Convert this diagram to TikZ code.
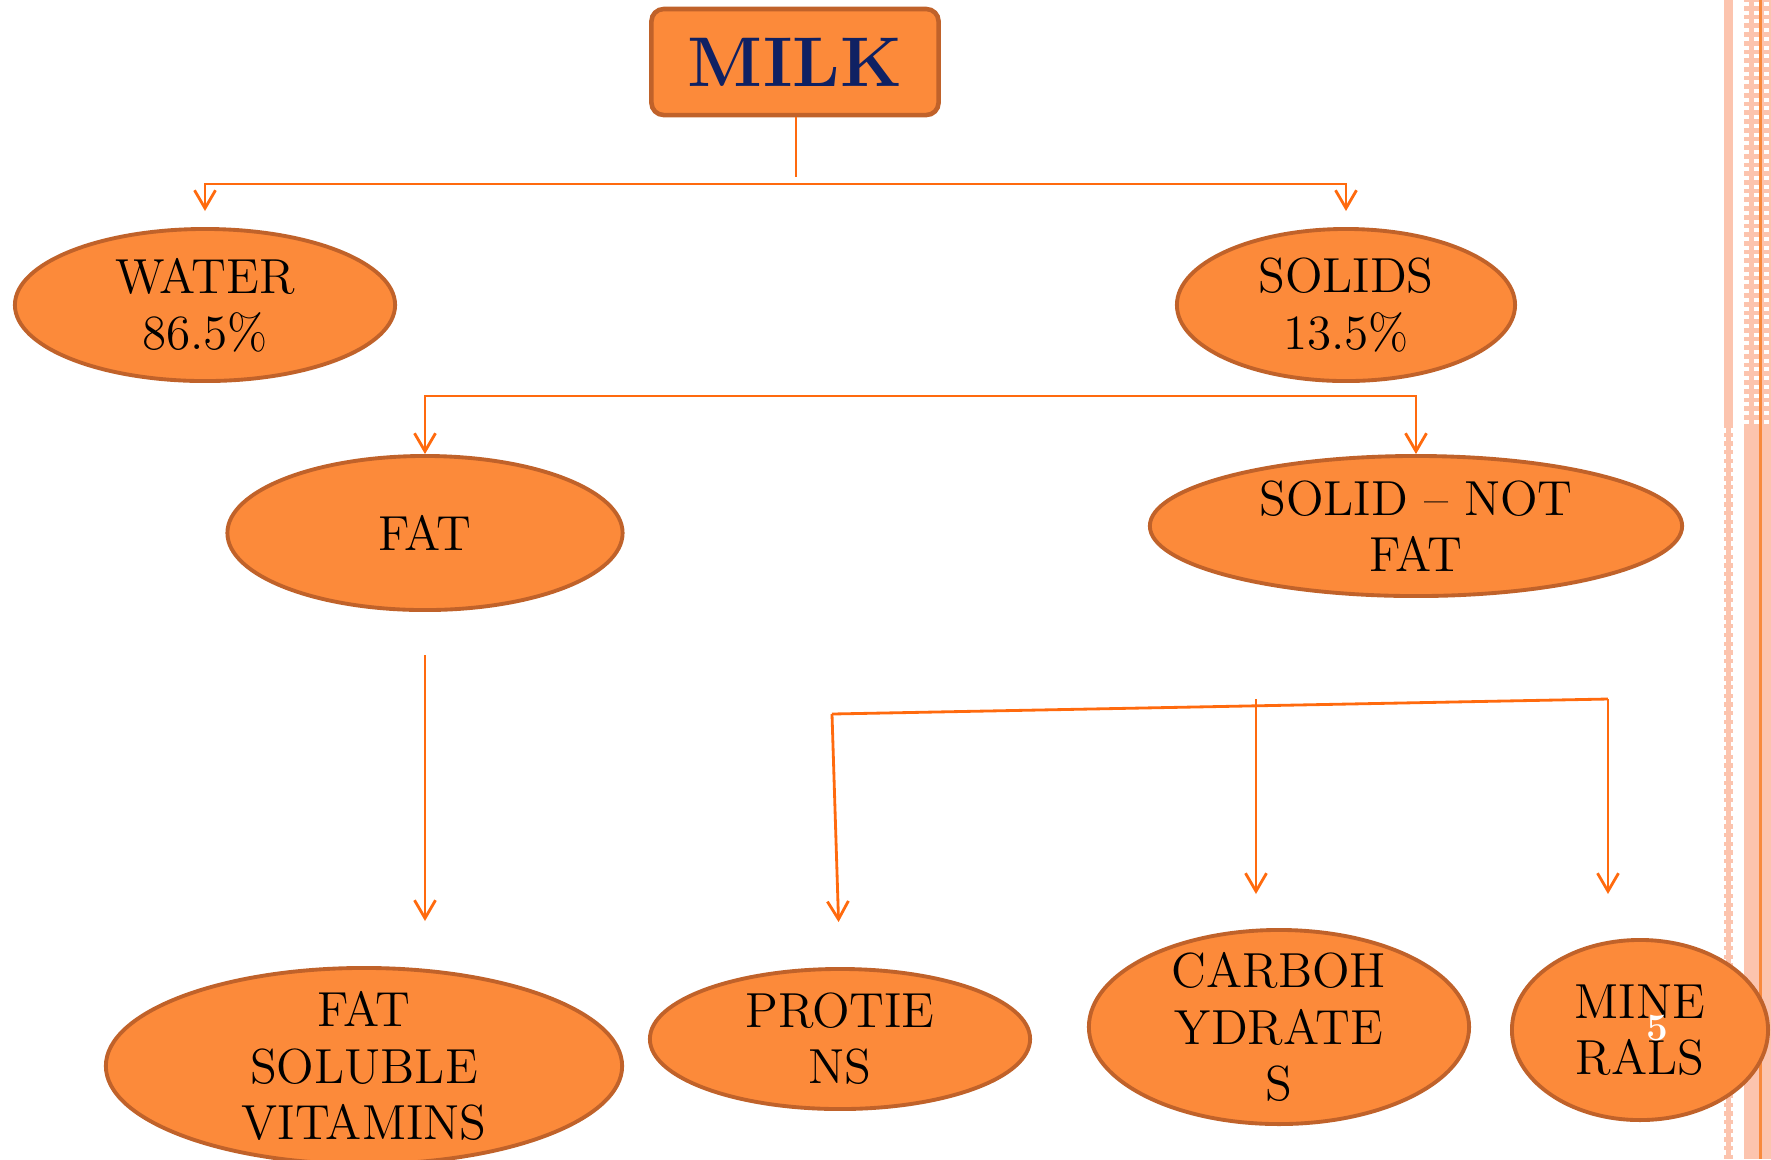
\documentclass[tikz,border=0pt]{standalone}
\usepackage{tikz}
\usetikzlibrary{arrows.meta,shapes.geometric,calc}
\definecolor{milkfill}{HTML}{FC8A3A}
\definecolor{milkrim}{HTML}{C0622A}
\definecolor{milkline}{HTML}{FF6A0E}
\definecolor{milknavy}{HTML}{0F2163}
\definecolor{sidepink}{HTML}{FCC4AE}
\definecolor{sideorange}{HTML}{F88A3C}
\tikzset{
  partell/.style={ellipse, draw=milkrim, fill=milkfill, line width=1.1pt,
    inner sep=0pt, align=center, font=\fontsize{14}{16}\selectfont},
  topbox/.style={rectangle, draw=milkrim, fill=milkfill, line width=1.3pt,
    rounded corners=3.5pt, minimum width=2.87cm, minimum height=1.06cm,
    text=milknavy, font=\fontsize{20}{24}\selectfont\bfseries},
  plainln/.style={line width=0.8pt, draw=milkline},
  arr/.style={plainln, -{Straight Barb[length=1.8mm, width=2.1mm]}}
}

\begin{document}
\begin{tikzpicture}[x=0.01cm, y=-0.01cm]
  \useasboundingbox (0,0) rectangle (1771,1159);
  % side border
  \fill[sidepink] (1724,0) rectangle (1733,424);
  \fill[sidepink] (1726,424) rectangle (1731,1159);
  \foreach \r in {0,...,84}
    \fill[sidepink] (1724,424+\r*8.7) rectangle ++(9,4.3);
  \fill[sidepink] (1744,0) rectangle (1771,1159);
  \foreach \r in {0,...,48}
    \foreach \c in {1744,1754,1764}
      \fill[white] (\c,\r*8.7+2) rectangle ++(4.5,4);
  \fill[sideorange] (1759,0) rectangle (1762,1159);

  % nodes
  \node[topbox] (milk) at (795,62) {MILK};
  \node[partell, minimum width=3.8cm, minimum height=1.52cm] (water) at (205,305) {WATER\\86.5\%};
  \node[partell, minimum width=3.38cm, minimum height=1.52cm] (solids) at (1346,305) {SOLIDS\\13.5\%};
  \node[partell, minimum width=3.95cm, minimum height=1.54cm] (fat) at (425,533) {FAT};
  \node[partell, minimum width=5.32cm, minimum height=1.4cm] (snf) at (1416,526) {SOLID -- NOT\\FAT};
  \node[partell, minimum width=5.16cm, minimum height=1.96cm, inner ysep=-3pt] (fsv) at (364,1066) {FAT\\SOLUBLE\\VITAMINS};
  \node[partell, minimum width=3.8cm, minimum height=1.4cm] (prot) at (840,1039) {PROTIE\\NS};
  \node[partell, minimum width=3.8cm, minimum height=1.94cm, inner ysep=-3pt] (carb) at (1279,1027) {CARBOH\\YDRATE\\S};
  \node[partell, minimum width=2.56cm, minimum height=1.8cm] (minr) at (1640,1030) {MINE\\RALS};
  \node[text=white, font=\fontsize{11}{13}\selectfont\bfseries] (pagenum) at (1657,1028) {5};

  % connectors
  \coordinate (milkdrop) at (796,177);
  \coordinate (splitA) at (796,184);
  \coordinate (splitB) at (920,396);
  \coordinate (skL) at (832,714);
  \coordinate (skM) at (1256,699);
  \coordinate (skR) at (1608,699);
  \draw[plainln] (milk.south -| milkdrop) -- (milkdrop);
  \draw[arr, shorten >=0.16cm] (splitA) -| (water.north);
  \draw[arr, shorten >=0.16cm] (splitA) -| (solids.north);
  \draw[arr] (splitB) -| (fat.north);
  \draw[arr] (splitB) -| (snf.north);
  \draw[arr, shorten <=0.43cm, shorten >=0.45cm] (fat.south) -- (fat.south |- fsv.north);
  \draw[plainln] (skL) -- (skR);
  \draw[arr, shorten >=0.45cm] (skL) -- (prot.north);
  \draw[arr, shorten >=0.34cm] (skM) -- (skM |- carb.north);
  \draw[arr, shorten >=0.44cm] (skR) -- (skR |- minr.north);
\end{tikzpicture}
\end{document}
